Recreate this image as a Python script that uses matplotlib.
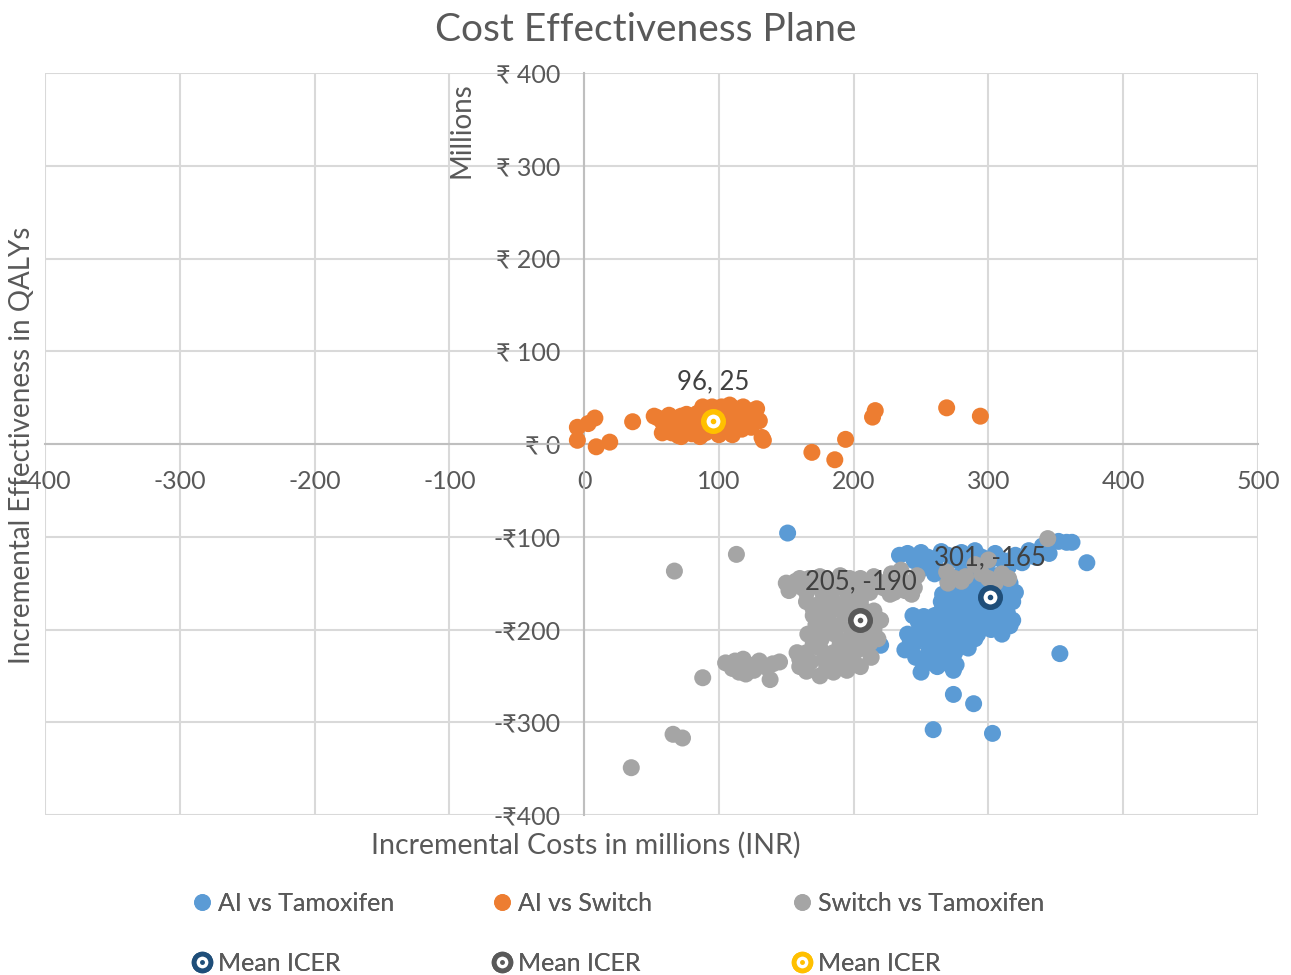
import matplotlib
matplotlib.use("Agg")
import matplotlib.pyplot as plt
from matplotlib.lines import Line2D
from matplotlib.ticker import FuncFormatter

plt.rcParams["font.family"] = ["Lato", "DejaVu Sans"]
plt.rcParams["axes.unicode_minus"] = False

# AI vs Tamoxifen (incremental cost, incremental effect) in millions
ai_tam_x = [151, 220, 358, 352, 373, 353, 274, 274, 289, 259, 303,
            234, 240, 245, 250, 255, 260, 265, 270, 275, 280, 285, 290, 295, 300,
            305, 310, 315, 320, 325, 330, 335, 340, 345, 362,
            300, 310, 315, 305, 295, 285, 275, 265, 270, 280, 290, 300, 310, 318,
            312, 300, 290, 280, 270, 260, 255, 320, 312, 285, 295, 305, 302,
            240, 245, 238, 250, 255, 260, 265, 270, 275, 280, 248, 262, 272, 276,
            258, 285, 290,
            266, 276, 286, 296, 306, 316, 268, 278, 288, 298, 308, 318, 264, 274,
            284, 294, 304, 314, 266, 276, 286, 296, 306, 316, 262, 272, 282, 292,
            310, 280, 290, 270, 260, 250,
            244, 252, 246, 252, 262, 268, 242, 256, 266, 250]
ai_tam_y = [-96, -217, -106, -105, -128, -226, -244, -270, -280, -308, -312,
            -120, -118, -126, -117, -122, -128, -116, -120, -125, -117, -130, -115, -122, -127,
            -118, -125, -132, -120, -128, -115, -122, -110, -118, -106,
            -140, -145, -150, -155, -150, -160, -165, -170, -180, -175, -170, -180, -175, -190,
            -198, -195, -200, -190, -195, -185, -195, -160, -165, -185, -188, -190, -200,
            -205, -215, -222, -200, -210, -218, -205, -215, -225, -210, -192, -196, -232, -238,
            -228, -220, -210,
            -162, -158, -152, -148, -142, -150, -172, -168, -162, -158, -160, -170, -182, -186,
            -178, -176, -172, -182, -192, -198, -196, -192, -198, -196, -202, -205, -200, -205,
            -205, -140, -145, -148, -140, -135,
            -185, -186, -230, -238, -240, -225, -212, -222, -236, -246]

# AI vs Switch
ai_sw_x = [-5, -5, 3, 8, 9, 19, 36, 133, 132, 169, 186, 194, 214, 216, 269, 294,
           52, 55, 58, 60, 62, 63, 65, 66, 68, 70, 70, 72, 74, 75, 76, 78, 80, 80,
           82, 84, 85, 86, 88, 90, 90, 92, 94, 96, 98, 100, 102, 104, 105, 107, 108,
           110, 112, 113, 115, 117, 118, 120, 122, 124, 125, 128, 130, 64, 58, 72,
           88, 95, 100, 110]
ai_sw_y = [18, 4, 22, 28, -3, 2, 24, 4, 7, -9, -17, 5, 29, 36, 39, 30,
           30, 28, 24, 20, 15, 31, 12, 26, 22, 18, 9, 30, 14, 25, 32, 20, 11, 28,
           16, 33, 24, 8, 19, 30, 12, 36, 22, 15, 33, 27, 40, 20, 35, 14, 42,
           28, 38, 20, 33, 16, 40, 27, 36, 18, 32, 38, 25, 18, 12, 8,
           40, 40, 10, 10]

# Switch vs Tamoxifen
sw_tam_x = [113, 67, 88, 66, 73, 35, 344,
            105, 110, 115, 118, 122, 126, 130, 134, 140, 145, 138, 112, 120,
            152, 157, 162, 167, 172, 177, 182, 187, 192, 197, 202, 207, 212, 217,
            222, 227, 232, 238, 243, 228, 235, 247,
            170, 178, 186, 194, 200, 208, 172, 182, 190, 198, 210, 166, 176, 186,
            195, 204, 212, 165, 175, 185, 195, 203, 168, 180, 190, 200, 185, 178,
            160, 158, 215, 220,
            269, 275, 280, 290, 295, 300, 305, 310, 315, 300, 270, 283,
            155, 160, 165, 175, 180, 190, 195, 205, 210, 215, 225, 230, 240, 245, 150,
            165, 175, 185, 195, 205, 170, 180, 190, 200, 210, 165, 175, 195, 205,
            213, 170, 215, 218, 160]
sw_tam_y = [-119, -137, -252, -313, -317, -349, -102,
            -236, -242, -246, -232, -238, -244, -234, -240, -237, -235, -254, -234, -248,
            -158, -148, -155, -145, -152, -160, -147, -155, -150, -145, -158, -150, -160, -148,
            -155, -162, -150, -158, -162, -140, -136, -142,
            -185, -180, -178, -182, -185, -180, -195, -192, -195, -200, -196, -205, -210, -205,
            -212, -208, -215, -225, -220, -225, -228, -222, -235, -240, -238, -235, -246, -232,
            -232, -225, -200, -190,
            -138, -145, -148, -130, -140, -145, -150, -140, -145, -125, -150, -143,
            -152, -145, -160, -143, -158, -142, -160, -145, -153, -143, -148, -160, -150, -155, -150,
            -170, -172, -170, -172, -170, -215, -200, -215, -218, -205, -245, -250, -244, -240,
            -230, -178, -180, -210, -240]

# mean ICER points and their labels
mean_x = [301, 205, 96]
mean_y = [-165, -190, 25]
mean_labels = ["301, -165", "205, -190", "96, 25"]

series_labels = ["AI vs Tamoxifen", "AI vs Switch", "Switch vs Tamoxifen"]
series_colors = ["#5B9BD5", "#ED7D31", "#A5A5A5"]
mean_colors = ["#1F4E79", "#595959", "#FFC000"]

xticks = list(range(-400, 501, 100))
yticks = list(range(-400, 401, 100))

TXT = "#595959"
GRID = "#D9D9D9"


def rupee(v, pos):
    v = int(round(v))
    if v < 0:
        return "-\u20b9{}".format(-v)
    return "\u20b9 {}".format(v)


def mean_handle(color):
    ring = Line2D([], [], ls="none", marker="o", ms=12, mfc="white", mec=color, mew=3.5)
    dot = Line2D([], [], ls="none", marker="o", ms=2.5, mfc=color, mec=color)
    return (ring, dot)


fig = plt.figure(figsize=(12.91, 9.75), dpi=100)
ax = fig.add_axes([45 / 1291, 1 - 815 / 975, (1258 - 45) / 1291, (815 - 73) / 975])

xs = [ai_tam_x, ai_sw_x, sw_tam_x]
ys = [ai_tam_y, ai_sw_y, sw_tam_y]
for x, y, c, lab in zip(xs, ys, series_colors, series_labels):
    ax.scatter(x, y, s=150, color=c, edgecolors="none", label=lab, zorder=3)

for mx, my, mc, ml in zip(mean_x, mean_y, mean_colors, mean_labels):
    ax.plot(mx, my, ls="none", marker="o", ms=14, mfc="white", mec=mc, mew=4, zorder=5)
    ax.plot(mx, my, ls="none", marker="o", ms=3, mfc=mc, mec=mc, zorder=6)
    ax.annotate(ml, (mx, my), xytext=(0, 19), textcoords="offset points",
                ha="center", va="bottom", fontsize=18.5, color="#404040", zorder=7)

ax.set_xlim(-400, 500)
ax.set_ylim(-400, 400)
ax.set_xticks(xticks)
ax.set_yticks(yticks)
ax.yaxis.set_major_formatter(FuncFormatter(rupee))
ax.grid(True, color=GRID, lw=1.5, zorder=0)
ax.set_axisbelow(True)
for s in ["top", "right"]:
    ax.spines[s].set_visible(False)
ax.spines["left"].set_position(("data", 0))
ax.spines["bottom"].set_position(("data", 0))
ax.spines["left"].set_color("#BFBFBF")
ax.spines["bottom"].set_color("#BFBFBF")
ax.spines["left"].set_linewidth(1.5)
ax.spines["bottom"].set_linewidth(1.5)
ax.tick_params(axis="both", length=0, labelsize=18, labelcolor=TXT)
ax.tick_params(axis="x", pad=19)
ax.tick_params(axis="y", pad=17)

fig.text(0.5, 1 - 30 / 975, "Cost Effectiveness Plane", ha="center", va="center",
         fontsize=28, color=TXT)
fig.text(586 / 1291, 1 - 845 / 975, "Incremental Costs in millions (INR)", ha="center",
         va="center", fontsize=20.5, color=TXT)
fig.text(22 / 1291, 1 - 445 / 975, "Incremental Effectiveness in QALYs", ha="center",
         va="center", rotation=90, fontsize=20, color=TXT)
fig.text(462 / 1291, 1 - 130 / 975, "Millions", ha="center", va="center", rotation=90,
         fontsize=20, color=TXT)

# legend: three columns, series on top row, mean ICER below
sc_handles = [Line2D([], [], ls="none", marker="o", ms=11, mfc=c, mec=c) for c in series_colors]
col_x = [192, 492, 792]
for i in range(3):
    leg = fig.legend([sc_handles[i], mean_handle(mean_colors[i])],
                     [series_labels[i], "Mean ICER"],
                     loc="upper left", bbox_to_anchor=(col_x[i] / 1291, 1 - 892 / 975),
                     frameon=False, fontsize=18, labelcolor=TXT, handlelength=0.8,
                     handletextpad=0.25, borderpad=0, borderaxespad=0, labelspacing=1.48)
    fig.add_artist(leg)

fig.savefig("out.png", dpi=100)
